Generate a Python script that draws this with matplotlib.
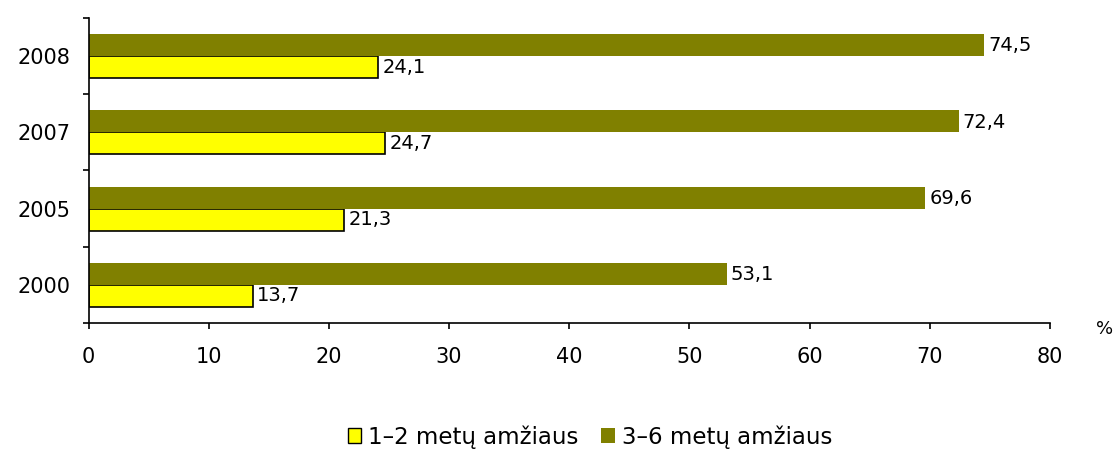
import numpy as np
import matplotlib.pyplot as plt
from matplotlib.patches import Patch

plt.rcParams['font.family'] = ['DejaVu Sans']

years = ['2000', '2005', '2007', '2008']
age_1_2 = [13.7, 21.3, 24.7, 24.1]
age_3_6 = [53.1, 69.6, 72.4, 74.5]
labels = ['1–2 metų amžiaus', '3–6 metų amžiaus']

yellow = '#FFFF00'
olive = '#808000'
fs = 15

fig = plt.figure(figsize=(11.14, 4.62), dpi=100)
ax = fig.add_axes([88.5 / 1114, 139 / 462, 961.5 / 1114, 305 / 462])

y = np.arange(len(years))
h = 0.29
ax.barh(y - h / 2, age_1_2, height=h, color=yellow, edgecolor='black', linewidth=1.2)
ax.barh(y + h / 2, age_3_6, height=h, color=olive, edgecolor='none')

# value labels, decimal comma
fmt = lambda v: f"{v:.1f}".replace('.', ',')
for i in range(len(years)):
    ax.text(age_1_2[i] + 0.35, y[i] - h / 2, fmt(age_1_2[i]), va='center', ha='left', fontsize=14)
    ax.text(age_3_6[i] + 0.35, y[i] + h / 2 - 0.01, fmt(age_3_6[i]), va='center', ha='left', fontsize=14)

ax.set_xlim(0, 80)
ax.set_ylim(-0.5, len(years) - 0.5)
ax.set_xticks(range(0, 81, 10))
ax.set_xticklabels([str(t) for t in range(0, 81, 10)], fontsize=fs)
ax.set_yticks(y)
ax.set_yticklabels(years, fontsize=fs)
ax.tick_params(axis='y', which='major', length=0, pad=13)
# tick marks between the year groups
ax.set_yticks(np.arange(-0.5, len(years), 1), minor=True)
ax.tick_params(axis='y', which='minor', length=4, width=1.2, direction='out')
ax.tick_params(axis='x', length=4, width=1.2, direction='out', pad=13)

for s in ['top', 'right']:
    ax.spines[s].set_visible(False)
for s in ['left', 'bottom']:
    ax.spines[s].set_linewidth(1.2)

fig.text(1105 / 1114, 1 - 329 / 462, '%', fontsize=13, ha='center', va='center')

handles = [Patch(facecolor=yellow, edgecolor='black', linewidth=1),
           Patch(facecolor=olive, edgecolor='none')]
fig.legend(handles, labels, loc='center', bbox_to_anchor=(590 / 1114, 1 - 437 / 462),
           ncol=2, frameon=False, fontsize=16.5, handlelength=0.6, handleheight=0.6,
           handletextpad=0.3, columnspacing=1.0)

fig.savefig('out.png', dpi=100, facecolor='white')
